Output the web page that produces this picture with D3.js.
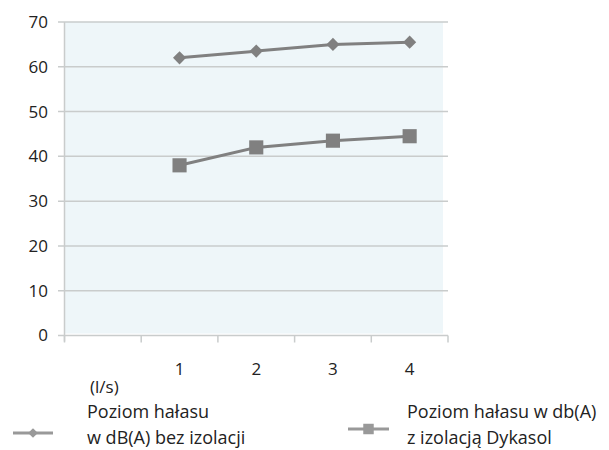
<!DOCTYPE html>
<html><head><meta charset="utf-8">
<script src="https://cdn.jsdelivr.net/npm/d3@7"></script>
<style>
html,body{margin:0;padding:0;background:#fff;}
svg{display:block;font-family:"Open Sans",sans-serif;}
</style></head>
<body><svg id="chart" width="609" height="450"></svg>
<script>
// Flow rate categories (first band holds the unit label only)
const categories = ["(l/s)", "1", "2", "3", "4"];
// Noise level in dB(A) without insulation
const seriesNoInsulation = [null, 62, 63.5, 65, 65.5];
// Noise level in dB(A) with Dykasol insulation
const seriesDykasol = [null, 38, 42, 43.5, 44.5];
const yTicks = [0, 10, 20, 30, 40, 50, 60, 70];
const legendLabels = [
  ["Poziom hałasu", "w dB(A) bez izolacji"],
  ["Poziom hałasu w db(A)", "z izolacją Dykasol"]
];

const svg = d3.select("#chart");
const x = d3.scaleBand().domain(categories).range([64.5, 448]).padding(0);
const y = d3.scaleLinear().domain([0, 70]).range([335.5, 22]);

const lineColor = "#808080";
const gridColor = "#c9cccc";

// plot background
svg.append("rect").attr("x", 65).attr("y", y(70)).attr("width", 443 - 65)
  .attr("height", y(0) - 2 - y(70)).attr("fill", "#eef6f9");

// horizontal gridlines with left tick stubs
svg.append("g").selectAll("line").data(yTicks.filter(d => d > 0)).join("line")
  .attr("x1", 58).attr("x2", 448).attr("y1", d => y(d)).attr("y2", d => y(d))
  .attr("stroke", gridColor).attr("stroke-width", 1.5);

// y axis labels
svg.append("g").selectAll("text").data(yTicks).join("text")
  .attr("x", 48).attr("y", d => y(d)).attr("dy", "0.35em")
  .attr("text-anchor", "end").attr("font-size", 17).attr("fill", "#222")
  .text(d => d);

// axes lines
svg.append("line").attr("x1", 64.5).attr("x2", 64.5).attr("y1", y(70)).attr("y2", y(0) + 6)
  .attr("stroke", gridColor).attr("stroke-width", 1.5);
svg.append("line").attr("x1", 58).attr("x2", 448).attr("y1", y(0)).attr("y2", y(0))
  .attr("stroke", gridColor).attr("stroke-width", 1.5);
// x ticks at band boundaries
const bounds = categories.map(c => x(c)).concat([x.range()[1]]);
svg.append("g").selectAll("line").data(bounds).join("line")
  .attr("x1", d => d).attr("x2", d => d).attr("y1", y(0)).attr("y2", y(0) + 7)
  .attr("stroke", gridColor).attr("stroke-width", 1.5);

// x labels
svg.append("g").selectAll("text").data(categories).join("text")
  .attr("x", (d, i) => i === 0 ? 90 : x(d) + x.bandwidth() / 2)
  .attr("y", (d, i) => i === 0 ? 393 : 375)
  .attr("text-anchor", (d, i) => i === 0 ? "start" : "middle")
  .attr("font-size", 17).attr("fill", "#222")
  .text(d => d);

const cx = d => x(d) + x.bandwidth() / 2;
const line = d3.line().defined(d => d.v != null).x(d => cx(d.c)).y(d => y(d.v));
const toPts = arr => categories.map((c, i) => ({c, v: arr[i]}));

function drawSeries(arr, shape) {
  const pts = toPts(arr);
  svg.append("path").datum(pts).attr("d", line)
    .attr("fill", "none").attr("stroke", lineColor).attr("stroke-width", 3);
  svg.append("g").selectAll("path").data(pts.filter(d => d.v != null)).join("path")
    .attr("transform", d => `translate(${cx(d.c)},${y(d.v)})`)
    .attr("d", d3.symbol().type(shape === "diamond" ? d3.symbolDiamond2 : d3.symbolSquare)
      .size(shape === "diamond" ? 110 : 200))
    .attr("fill", lineColor);
}
drawSeries(seriesNoInsulation, "diamond");
drawSeries(seriesDykasol, "square");

// legend
const legend = [
  {shape: "diamond", lx1: 13, lx2: 53, ly: 433, tx: 87},
  {shape: "square", lx1: 348, lx2: 389, ly: 429, tx: 407}
];
legend.forEach((l, i) => {
  const g = svg.append("g");
  g.append("line").attr("x1", l.lx1).attr("x2", l.lx2).attr("y1", l.ly).attr("y2", l.ly)
    .attr("stroke", "#999").attr("stroke-width", 3);
  g.append("path").attr("transform", `translate(${(l.lx1 + l.lx2) / 2},${l.ly})`)
    .attr("d", d3.symbol().type(l.shape === "diamond" ? d3.symbolDiamond2 : d3.symbolSquare)
      .size(l.shape === "diamond" ? 60 : 110))
    .attr("fill", "#999");
  legendLabels[i].forEach((t, j) => {
    g.append("text").attr("x", l.tx).attr("y", 418 + j * 26)
      .attr("font-size", 18).attr("fill", "#222").text(t);
  });
});
</script></body></html>
